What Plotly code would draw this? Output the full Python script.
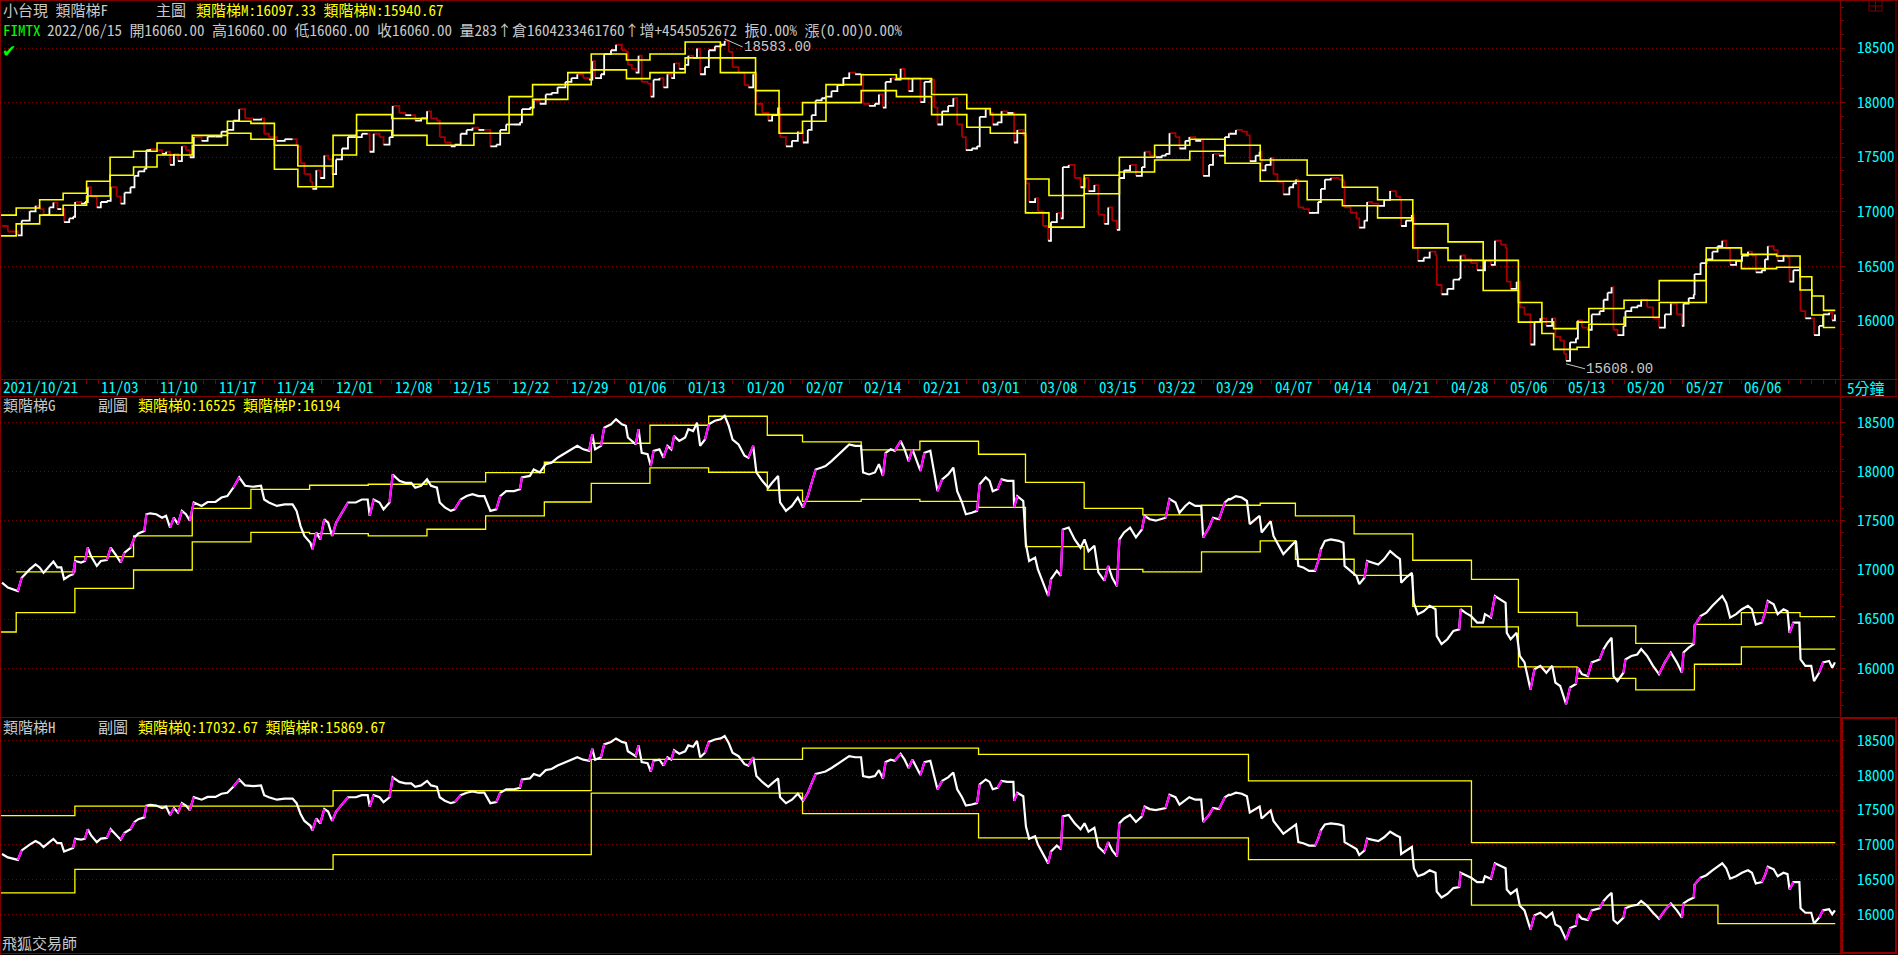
import plotly.graph_objects as go
import pandas as pd

W, H = 1898, 955
RED = "#800000"
BOX = "#900000"
CYAN = "#00FFFF"
YEL = "#FFFF00"
GRAY = "#C8C8C8"
GREEN = "#00FF00"
MAG = "#FF00FF"
DNRED = "#a80000"
FONT = "Noto Sans Mono CJK TC, Noto Sans CJK TC, Liberation Mono, monospace"
NUMFONT = "Liberation Mono, DejaVu Sans Mono, monospace"

# ---------------- trading calendar ----------------
holidays = ["2021-12-31", "2022-01-27", "2022-01-28", "2022-01-31", "2022-02-01",
            "2022-02-02", "2022-02-03", "2022-02-04", "2022-02-28", "2022-04-04",
            "2022-04-05", "2022-05-02", "2022-06-03"]
days = [d for d in pd.bdate_range("2021-10-21", "2022-06-15")
        if d.strftime("%Y-%m-%d") not in holidays]
day_index = {d.strftime("%Y-%m-%d"): i for i, d in enumerate(days)}

label_dates = ["2021-10-21", "2021-11-03", "2021-11-10", "2021-11-17", "2021-11-24",
               "2021-12-01", "2021-12-08", "2021-12-15", "2021-12-22", "2021-12-29",
               "2022-01-06", "2022-01-13", "2022-01-20", "2022-02-07", "2022-02-14",
               "2022-02-21", "2022-03-01", "2022-03-08", "2022-03-15", "2022-03-22",
               "2022-03-29", "2022-04-07", "2022-04-14", "2022-04-21", "2022-04-28",
               "2022-05-06", "2022-05-13", "2022-05-20", "2022-05-27", "2022-06-06"]
label_text = ["2021/10/21"] + [d[5:7] + "/" + d[8:10] for d in label_dates[1:]]
price_ticks = [16000, 16500, 17000, 17500, 18000, 18500]

# ---------------- price path (trading-day position, price) ----------------
price_t = [
    0.79, 1.29, 2.14, 2.47, 3.15, 3.65, 3.99, 4.33, 4.83, 5.17, 5.51, 5.84, 6.08, 6.52, 6.85,
    7.02, 7.53, 7.86, 8.10, 8.37, 8.87, 9.21, 9.72, 10.05, 10.56, 10.90, 11.23, 11.74, 12.08,
    12.41, 12.92, 13.09, 13.42, 13.93, 14.43, 14.77, 15.11, 15.44, 15.78, 16.12, 16.46, 16.79,
    17.13, 17.80, 18.31, 18.98, 19.49, 19.99, 20.50, 21.00, 21.51, 22.18, 22.86, 23.13, 23.53,
    24.21, 24.88, 25.55, 25.89, 26.23, 26.56, 27.07, 27.24, 27.57, 27.91, 28.25, 28.58, 28.92,
    29.26, 29.76, 30.27, 30.94, 31.45, 31.95, 32.12, 32.46, 32.96, 33.30, 33.81, 34.08, 34.65,
    35.16, 35.66, 36.00, 36.50, 37.01, 37.35, 37.85, 38.09, 38.52, 39.03, 39.37, 39.87, 40.38,
    40.88, 41.39, 41.89, 42.40, 42.91, 43.24, 43.75, 44.42, 44.93, 45.09, 45.77, 46.10, 46.61,
    47.12, 47.62, 48.13, 48.80, 49.31, 49.81, 50.32, 50.82, 51.09, 51.33, 51.83, 52.10, 52.68,
    53.11, 53.61, 53.95, 54.12, 54.45, 54.79, 55.03, 55.30, 55.80, 56.07, 56.31, 56.81, 57.15,
    57.49, 57.82, 58.06, 58.50, 59.00, 59.27, 59.68, 60.01, 60.28, 60.69, 61.02, 61.53, 62.03,
    62.37, 62.71, 63.04, 63.55, 64.06, 64.39, 64.80, 65.07, 65.57, 66.08, 66.41, 66.92, 67.09,
    67.59, 68.10, 68.60, 69.04, 69.45, 69.78, 70.12, 70.63, 70.96, 71.47, 71.97, 72.48, 72.98,
    73.49, 73.99, 74.16, 74.67, 75.17, 75.51, 75.85, 76.08, 76.52, 76.86, 77.36, 77.70, 78.04,
    78.37, 79.05, 79.39, 79.89, 80.23, 80.50, 80.90, 81.41, 81.85, 82.18, 82.59, 82.92, 83.43,
    83.87, 84.10, 84.61, 84.94, 85.21, 85.62, 85.96, 86.46, 86.97, 87.03, 87.30, 87.81, 88.04,
    88.31, 88.82, 89.06, 89.49, 89.93, 90.17, 90.67, 91.01, 91.18, 91.68, 92.19, 92.69, 93.03,
    93.37, 93.87, 94.21, 94.72, 95.05, 95.39, 95.79, 96.00, 96.40, 96.91, 97.41, 97.92, 98.15,
    98.59, 99.10, 99.60, 99.94, 100.27, 100.78, 101.12, 101.62, 101.96, 102.47, 102.97, 103.14,
    103.64, 103.98, 104.49, 104.99, 105.33, 105.42, 105.93, 106.43, 106.87, 107.11, 107.61,
    107.95, 108.12, 108.45, 108.89, 109.13, 109.47, 109.97, 110.48, 110.81, 111.05, 111.25,
    111.66, 112.16, 112.67, 112.94, 113.17, 113.51, 114.01, 114.69, 115.09, 115.19, 115.70,
    116.20, 116.44, 116.88, 117.11, 117.55, 118.06, 118.56, 119.07, 119.57, 119.91, 120.01,
    120.42, 120.92, 121.09, 121.43, 121.93, 122.44, 122.94, 123.04, 123.45, 123.95, 124.46,
    124.96, 125.07, 125.47, 125.97, 126.48, 126.99, 127.15, 127.66, 128.00, 128.50, 128.91,
    129.01, 129.34, 129.85, 130.12, 130.52, 131.03, 131.37, 131.87, 132.38, 132.88, 133.15,
    133.56, 133.89, 134.06, 134.40, 134.90, 135.07, 135.41, 135.91, 136.25, 136.92, 137.26,
    137.60, 137.94, 138.10, 138.44, 138.95, 139.12, 139.62, 140.13, 140.46, 140.97, 141.47,
    141.98, 142.48, 142.99, 143.50, 143.93, 144.07, 144.51, 144.94, 145.01, 145.52, 146.02,
    146.53, 146.97, 147.37, 147.71, 148.04, 148.55, 149.05, 149.56, 149.90, 150.23, 150.74,
    151.01, 151.25, 151.75, 152.09, 152.59, 152.93, 153.10, 153.43, 153.94, 154.04, 154.45,
    154.95, 155.19, 155.62, 155.96, 156.47, 156.74, 156.97]
price_v = [
    16870, 16820, 16785, 16920, 17005, 17055, 17025, 16970, 17040, 17085, 17025, 17025, 16905, 16940, 16955,
    17090, 17075, 17090, 17225, 17140, 17040, 17090, 17100, 17225, 17140, 17075, 17175, 17225, 17330,
    17370, 17395, 17565, 17575, 17565, 17530, 17550, 17430, 17530, 17465, 17600, 17565, 17500,
    17685, 17650, 17690, 17690, 17735, 17750, 17835, 17940, 17855, 17845, 17855, 17715, 17685,
    17650, 17665, 17665, 17600, 17445, 17345, 17275, 17210, 17380, 17310, 17515, 17480, 17345,
    17480, 17580, 17685, 17685, 17715, 17715, 17550, 17715, 17685, 17615, 17685, 17970, 17905,
    17885, 17885, 17835, 17855, 17920, 17855, 17835, 17685, 17635, 17600, 17615, 17715, 17750,
    17770, 17750, 17750, 17600, 17615, 17750, 17800, 17800, 17820, 17940, 17955, 18020, 17990,
    18075, 18090, 18140, 18190, 18225, 18260, 18225, 18210, 18380, 18225, 18260, 18445, 18480,
    18530, 18480, 18465, 18345, 18310, 18275, 18430, 18190, 18175, 18055, 18210, 18225, 18140,
    18260, 18225, 18360, 18310, 18345, 18430, 18410, 18495, 18260, 18325, 18480, 18515, 18530,
    18565, 18465, 18325, 18275, 18160, 18140, 18260, 17990, 17905, 17835, 17885, 17955, 17685,
    17600, 17650, 17735, 17635, 17750, 17885, 18020, 18040, 18055, 18105, 18160, 18225, 18275,
    18260, 18260, 17990, 17970, 17990, 18075, 17955, 18190, 18225, 18210, 18310, 18225, 18105,
    18225, 18005, 18190, 18210, 17955, 17800, 17920, 17970, 18040, 17800, 17685, 17565, 17580,
    17600, 17870, 17940, 17905, 17800, 17820, 17920, 17905, 17905, 17635, 17750, 17700, 17260,
    17090, 17125, 17005, 16870, 16735, 16905, 16990, 16940, 17410, 17430, 17310, 17225, 17310,
    17190, 17245, 16975, 16890, 17040, 16920, 16835, 17310, 17380, 17430, 17330, 17410, 17550,
    17515, 17500, 17515, 17530, 17720, 17685, 17580, 17650, 17685, 17650, 17650, 17330,
    17430, 17530, 17515, 17685, 17720, 17715, 17750, 17735, 17700, 17465, 17515,
    17550, 17380, 17430, 17495, 17345, 17275, 17160, 17225, 17260, 17295, 17040,
    17025, 16990, 16990, 17090, 17210, 17295, 17310, 17295, 17275, 17040, 16990,
    16940, 16855, 16920, 17090, 17075, 17055, 17110, 17190, 17140, 17110, 16870,
    16920, 16970, 16665, 16550, 16580, 16635, 16600, 16330, 16245, 16295, 16380,
    16395, 16600, 16565, 16530, 16465, 16465, 16550, 16515, 16735, 16700, 16665,
    16360, 16295, 16360, 16125, 16060, 15785, 15990, 16025, 15955, 16025, 15855,
    15820, 15700, 15635, 15805, 15840, 16005, 15940, 15920, 16060, 16090, 16195,
    16260, 16310, 15920, 15870, 15955, 16090, 16125, 16140, 16195, 16125, 16025,
    15940, 16060, 16160, 16060, 15955, 16160, 16210, 16245, 16430, 16530, 16565,
    16635, 16685, 16735, 16665, 16515, 16550, 16600, 16635, 16600, 16445, 16465,
    16565, 16685, 16650, 16550, 16600, 16580, 16360, 16465, 16465, 16090, 16025,
    16025, 15870, 15955, 16060, 16075, 16005, 16060]

# extreme labels on main chart
high_label = 18583.00
low_label = 15608.00

# ---------------- main chart ladder M / N (start day index, value) ----------------
mn_start = [0, 2, 4, 6, 8, 10, 12, 14, 17, 20, 22, 24, 26, 29, 31, 34, 37, 41, 44, 46, 49, 51,
            54, 56, 59, 62, 65, 67, 69, 71, 74, 77, 80, 83, 85, 88, 90, 93, 96, 99, 102, 105,
            108, 112, 115, 118, 121, 124, 127, 130, 132, 133, 135, 136, 139, 142, 146, 149,
            152, 154, 155, 156]
m_vals = [16970, 17035, 17110, 17170, 17280, 17500, 17555, 17630, 17700, 17830, 17810, 17610,
          17420, 17700, 17890, 17855, 17810, 17890, 18055, 18165, 18275, 18445, 18390, 18445,
          18555, 18410, 18110, 17890, 18000, 18165, 18255, 18220, 18075, 17945, 17890, 17300,
          17150, 17335, 17500, 17610, 17665, 17610, 17475, 17335, 17225, 17110, 16890, 16725,
          16555, 16170, 15994, 15930, 15990, 16115, 16190, 16370, 16670, 16610, 16595, 16406,
          16229, 16097.33]
n_vals = [16780, 16890, 16970, 17060, 17145, 17335, 17410, 17520, 17610, 17720, 17665, 17390,
          17230, 17520, 17745, 17700, 17610, 17720, 17890, 18030, 18165, 18300, 18220, 18275,
          18410, 18275, 17890, 17720, 17830, 18000, 18110, 18055, 17890, 17775, 17720, 16990,
          16860, 17165, 17365, 17475, 17555, 17445, 17280, 17110, 17055, 16945, 16670, 16555,
          16280, 15990, 15886, 15740, 15760, 15970, 16035, 16170, 16555, 16480, 16492, 16284,
          16055, 15940.67]

# ---------------- weekly ladder O / P (one value per trading week) ----------------
o_vals = [None, 16979, 17135, 17345, 17626, 17819, 17860, 17870, 17894, 17988, 18094, 18287,
          18470, 18561, 18368, 18300, 18219, 18307, 18175, 17890, 17626, 17558, 17657, 17677,
          17548, 17365, 17098, 16904, 16569, 16430, 16254, 16447, 16566, 16525]
p_vals = [16369, 16566, 16813, 16999, 17284, 17382, 17369, 17345, 17413, 17548, 17690, 17880,
          18036, 17992, 17809, 17697, 17717, 17697, 17636, 17236, 17006, 16979, 17182, 17294,
          17108, 16945, 16630, 16420, 16014, 15898, 15780, 16041, 16217, 16194]

# ---------------- monthly ladder Q / R (one value per month) ----------------
q_vals = [17420, 17556, 17780, 18230, 18390, 18300, 17920, 17032.67, 17032.67]
r_vals = [16310, 16650, 16860, 17745, 17450, 17100, 16790, 16135, 15869.67]

# ---------------- derived positions ----------------
week_start, month_start = [], []
for i, d in enumerate(days):
    if i == 0 or d.isocalendar()[1] != days[i - 1].isocalendar()[1]:
        week_start.append(i)
    if i == 0 or d.month != days[i - 1].month:
        month_start.append(i)

PX_PER_DAY = 11.736
X0 = 0.62
X1 = X0 + 1840 / PX_PER_DAY
X_END = len(days)

tickvals = [X0] + [day_index[d] for d in label_dates[1:]]


def py(y):
    return 1 - y / H


def pxx(x):
    return x / W


fig = go.Figure()


def ladder(starts, vals, xa, ya, width):
    xs = list(starts) + [X_END]
    ys = list(vals) + [vals[-1]]
    fig.add_trace(go.Scatter(x=xs, y=ys, mode="lines", line=dict(color=YEL, width=width, shape="hv"),
                             xaxis=xa, yaxis=ya, hoverinfo="skip", connectgaps=False))


# main chart bars: up white, down dark red
ux, uy, dx, dy = [], [], [], []
for i in range(1, len(price_t)):
    x0, x1 = price_t[i - 1], price_t[i]
    y0, y1 = price_v[i - 1], price_v[i]
    if y1 >= y0:
        ux += [x0, x1, x1, None]
        uy += [y0, y0, y1, None]
    else:
        dx += [x0, x1, x1, None]
        dy += [y0, y0, y1, None]
fig.add_trace(go.Scatter(x=dx, y=dy, mode="lines", line=dict(color=DNRED, width=1.8),
                         xaxis="x", yaxis="y", hoverinfo="skip"))
fig.add_trace(go.Scatter(x=ux, y=uy, mode="lines", line=dict(color="white", width=1.8),
                         xaxis="x", yaxis="y", hoverinfo="skip"))
ladder(mn_start, m_vals, "x", "y", 1.6)
ladder(mn_start, n_vals, "x", "y", 1.6)

# sub charts: white close line, steep rises in magenta
mx, my = [], []
for i in range(1, len(price_t)):
    if price_v[i] - price_v[i - 1] >= 90:
        mx += [price_t[i - 1], price_t[i], None]
        my += [price_v[i - 1], price_v[i], None]

ladder(week_start, o_vals, "x2", "y2", 1.3)
ladder(week_start, p_vals, "x2", "y2", 1.3)
ladder(month_start, q_vals, "x3", "y3", 1.3)
ladder(month_start, r_vals, "x3", "y3", 1.3)
for xa, ya in (("x2", "y2"), ("x3", "y3")):
    fig.add_trace(go.Scatter(x=price_t, y=price_v, mode="lines", line=dict(color="white", width=2.2),
                             xaxis=xa, yaxis=ya, hoverinfo="skip"))
    fig.add_trace(go.Scatter(x=mx, y=my, mode="lines", line=dict(color=MAG, width=2.2),
                             xaxis=xa, yaxis=ya, hoverinfo="skip"))


def yax(dom, rng, xa):
    return dict(domain=dom, range=rng, side="right", anchor=xa, tickmode="array", tickvals=price_ticks,
                ticktext=[str(v) for v in price_ticks], tickfont=dict(family=FONT, size=15, color=CYAN),
                ticks="outside", ticklen=4, tickcolor=RED, tickwidth=1, ticklabelstandoff=9,
                showgrid=True, gridcolor=RED, griddash="1px,3px", gridwidth=1,
                zeroline=False, showline=False, automargin=False, fixedrange=True,
                minor=dict(tickmode="linear", tick0=0, dtick=125, ticks="outside", ticklen=3,
                           tickcolor=RED, showgrid=False))


xdom = [0, 1840 / W]
fig.update_layout(
    width=W, height=H, margin=dict(l=0, r=0, t=0, b=0, pad=0),
    paper_bgcolor="black", plot_bgcolor="black", showlegend=False, hovermode=False,
    xaxis=dict(domain=xdom, range=[X0, X1], anchor="y", tickmode="array", tickvals=tickvals,
               showticklabels=False, ticks="outside", ticklen=4, tickcolor=RED,
               showgrid=False, zeroline=False, showline=False, automargin=False, fixedrange=True,
               minor=dict(tickmode="linear", tick0=0, dtick=1, ticks="outside", ticklen=4,
                          tickcolor=RED, showgrid=False)),
    xaxis2=dict(domain=xdom, range=[X0, X1], anchor="y2", showticklabels=False, ticks="",
                showgrid=False, zeroline=False, fixedrange=True),
    xaxis3=dict(domain=xdom, range=[X0, X1], anchor="y3", showticklabels=False, ticks="",
                showgrid=False, zeroline=False, fixedrange=True),
    yaxis=yax([py(379), 1], [15469, 18940], "x"),
    yaxis2=yax([py(717), py(396)], [15505, 18767], "x2"),
    yaxis3=yax([py(953), py(717)], [15447, 18838], "x3"),
)

# frame lines
shapes = []


def hline(y, x0=0, x1=W, w=1, c=RED):
    shapes.append(dict(type="line", xref="paper", yref="paper", x0=pxx(x0), x1=pxx(x1),
                       y0=py(y), y1=py(y), line=dict(color=c, width=w)))


def vline(x, y0=0, y1=H, w=1, c=RED):
    shapes.append(dict(type="line", xref="paper", yref="paper", x0=pxx(x), x1=pxx(x),
                       y0=py(y0), y1=py(y1), line=dict(color=c, width=w)))


hline(0.5)
hline(379.5)
hline(396.5)
hline(717.5)
hline(953.5)
vline(0.5)
vline(1840.5)
vline(1896, 0, 396)
shapes.append(dict(type="rect", xref="paper", yref="paper", x0=pxx(1842), x1=pxx(1896),
                   y0=py(953), y1=py(718), line=dict(color=BOX, width=2)))
# window icon top-right
shapes.append(dict(type="rect", xref="paper", yref="paper", x0=pxx(1869), x1=pxx(1882),
                   y0=py(11), y1=py(0.5), line=dict(color=RED, width=1)))
hline(6, 1869, 1882)
vline(1875.5, 0, 11)
fig.update_layout(shapes=shapes)


def txt(x, y, s, color, size=15, family=FONT):
    fig.add_annotation(x=pxx(x), y=py(y), xref="paper", yref="paper", text=s, showarrow=False,
                       xanchor="left", yanchor="middle", borderpad=0,
                       font=dict(family=family, size=size, color=color))


txt(2, 9.5, "小台現 類階梯F", GRAY)
txt(155, 9.5, "主圖", GRAY)
txt(195, 9.5, f"類階梯M:{m_vals[-1]:.2f} 類階梯N:{n_vals[-1]:.2f}", YEL)
txt(2, 29.5, "FIMTX", GREEN)
txt(46, 29.5, "2022/06/15 開16060.00 高16060.00 低16060.00 收16060.00 量283↑倉1604233461760↑增+4545052672 振0.00% 漲(0.00)0.00%", GRAY)
txt(1, 51, "✔", GREEN, 17, "DejaVu Sans")
txt(2, 405, "類階梯G", GRAY)
txt(97, 405, "副圖", GRAY)
txt(137, 405, f"類階梯O:{o_vals[-1]:.0f} 類階梯P:{p_vals[-1]:.0f}", YEL)
txt(2, 726, "類階梯H", GRAY)
txt(97, 726, "副圖", GRAY)
txt(137, 726, f"類階梯Q:{q_vals[-1]:.2f} 類階梯R:{r_vals[-1]:.2f}", YEL)
txt(1, 942, "飛狐交易師", GRAY)
txt(1846, 387, "5分鐘", CYAN)

# date labels of the time axis, left-aligned at their day tick
for tv, lt in zip(tickvals, label_text):
    fig.add_annotation(x=tv, y=py(386), xref="x", yref="paper", text=lt, showarrow=False,
                       xanchor="left", yanchor="middle", xshift=2, borderpad=0,
                       font=dict(family=FONT, size=15, color=CYAN))

# high / low markers
i_hi = max(range(len(price_v)), key=lambda i: price_v[i])
i_lo = min(range(len(price_v)), key=lambda i: price_v[i])
fig.add_annotation(x=price_t[i_hi], y=high_label, xref="x", yref="y", text=f"{high_label:.2f}",
                   showarrow=True, arrowhead=0, arrowwidth=1, arrowcolor=GRAY, ax=18, ay=8,
                   xanchor="left", yanchor="middle", standoff=0, borderpad=0,
                   font=dict(family=NUMFONT, size=14, color=GRAY))
fig.add_annotation(x=price_t[i_lo], y=low_label, xref="x", yref="y", text=f"{low_label:.2f}",
                   showarrow=True, arrowhead=0, arrowwidth=1, arrowcolor=GRAY, ax=19, ay=5,
                   xanchor="left", yanchor="middle", standoff=0, borderpad=0,
                   font=dict(family=NUMFONT, size=14, color=GRAY))

fig.write_html("out.html", config={"displayModeBar": False},
               post_script="document.body.style.margin='0';document.body.style.background='#000';")
